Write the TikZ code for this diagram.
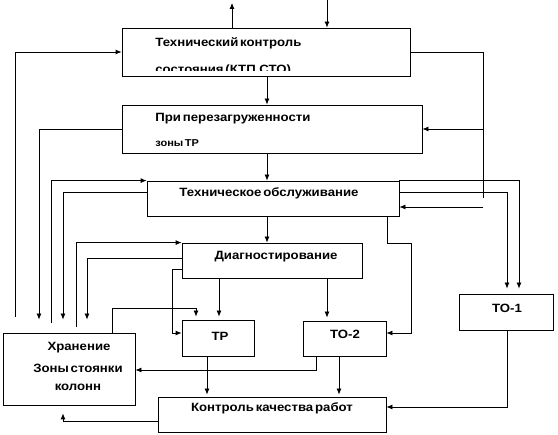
\documentclass[tikz,border=0pt]{standalone}
\usepackage{fontspec}
\setmainfont{Liberation Sans}[FakeStretch=1.1, WordSpace=0.5]
\usetikzlibrary{arrows.meta}
\begin{document}
\begin{tikzpicture}[x=1pt,y=-1pt,
  line width=0.8pt,
  box/.style={draw, minimum width=#1, inner sep=0pt},
  txt/.style={font=\bfseries\fontsize{12}{14}\selectfont, inner sep=0pt},
  small/.style={font=\bfseries\fontsize{10}{12}\selectfont, inner sep=0pt},
  arr/.style={-{Latex[length=6pt,width=5pt]}}
]
\useasboundingbox (0,0) rectangle (558,435);
% boxes
\node[box=288, minimum height=48] (ktp)  at (266,52)    {};
\node[box=300, minimum height=48] (per)  at (272,129)   {};
\node[box=252, minimum height=35] (to)   at (273,198.5) {};
\node[box=180, minimum height=35] (diag) at (272,260.5) {};
\node[box=72,  minimum height=36] (tr)   at (218,338)   {};
\node[box=83,  minimum height=35] (to2)  at (344.5,338.5) {};
\node[box=94,  minimum height=36] (to1)  at (506,312)   {};
\node[box=132, minimum height=72] (kh)   at (69,369)    {};
\node[box=228, minimum height=35] (kon)  at (272,414.5) {};
% texts
\node[txt, anchor=west] (ktpA) at (155,43) {Технический контроль};
\begin{scope}
  \clip (122,60) rectangle (410,71);
  \node[txt, anchor=west] (ktpB) at (155,70) {состояния (КТП,СТО)};
\end{scope}
\node[txt, anchor=west] (perA) at (155,119) {При перезагруженности};
\node[small, anchor=west] (perB) at (155,143) {зоны ТР};
\node[txt] (toT)   at (269,193) {Техническое обслуживание};
\node[txt] (diagT) at (276,257) {Диагностирование};
\node[txt] (trT)   at (220,336) {ТР};
\node[txt] (to2T)  at (345,334) {ТО-2};
\node[txt] (to1T)  at (507,308) {ТО-1};
\node[txt] (khA)   at (79,348)  {Хранение};
\node[txt] (khB)   at (78,368)  {Зоны стоянки};
\node[txt] (khC)   at (78,387)  {колонн};
\node[txt] (konT)  at (272,408) {Контроль качества работ};
% free ends
\coordinate (upOut)  at (232,3);
\coordinate (downIn) at (327,0);
\coordinate (ktpR)   at (483,198);
\coordinate (toR)    at (483,207);
\coordinate (khL)    at (15,317);
\coordinate (khT1)   at (51,323);
\coordinate (khT2)   at (76,327);
% connectors
\draw[arr] (ktp.north -| upOut) -- (upOut);
\draw[arr] (downIn) -- (downIn |- ktp.north);
\draw[arr] (ktp.south -| 267,0) -- (per.north -| 267,0);
\draw[arr] (per.south -| 267,0) -- (to.north -| 267,0);
\draw[arr] (to.south -| 267,0) -- (diag.north -| 267,0);
\draw (ktp.east) -| (ktpR);
\draw[arr] (ktpR |- per.east) -- (per.east);
\draw[arr] (toR) -- (toR -| to.east);
\draw[arr] (khL) |- (ktp.west);
\draw[arr, shorten >=13pt] (per.west) -| (kh.north -| 39,0);
\draw[arr, shorten >=13pt] (to.west |- 0,192) -| (kh.north -| 63,0);
\draw[arr] (khT1) |- (to.north west);
\draw[arr] (khT2) |- (diag.north west);
\draw[arr, shorten >=13pt] (diag.west |- 0,258) -| (kh.north -| 87,0);
\draw[arr] (diag.west |- 0,269) -| (172,333) -- (tr.west |- 0,333);
\draw[arr, shorten >=3pt] (diag.south -| 219,0) -- (tr.north -| 219,0);
\draw[arr, shorten >=3pt] (diag.south -| 327,0) -- (to2.north -| 327,0);
\draw[arr, shorten >=3pt] (kh.north -| 112,0) |- (196,308) -- (tr.north -| 196,0);
\draw[arr, shorten >=2pt] (tr.south -| 207,0) -- (kon.north -| 207,0);
\draw[arr, shorten >=2pt] (to2.south -| 339,0) -- (kon.north -| 339,0);
\draw[arr] (to2.south -| 316,0) |- (kh.east |- 0,370);
\draw[arr, shorten >=8pt] (kon.west |- 0,421) -| (kh.south -| 63,0);
\draw[arr] (to1.south -| 507,0) |- (kon.east |- 0,407);
\draw[arr] (to.south -| 387,0) |- (411,243) |- (to2.east |- 0,333);
\draw[arr, shorten >=5pt] (to.north east) -| (to1.north -| 519,0);
\draw[arr, shorten >=5pt] (to.east |- 0,192) -| (to1.north -| 507,0);
\end{tikzpicture}
\end{document}
